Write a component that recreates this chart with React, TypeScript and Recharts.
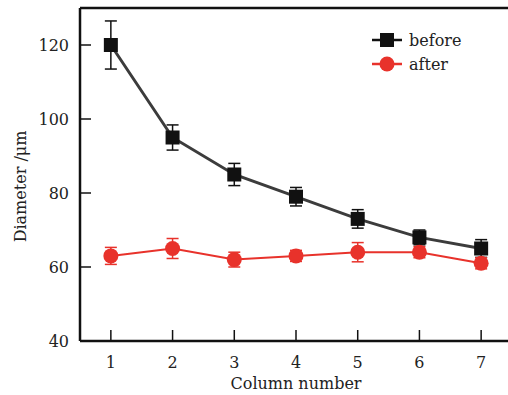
import React from 'react';
import { LineChart, Line, XAxis, YAxis, ErrorBar, ReferenceLine } from 'recharts';

const columns = [1, 2, 3, 4, 5, 6, 7];
const beforeValues = [120, 95, 85, 79, 73, 68, 65];
const beforeErrors = [6.5, 3.4, 3, 2.5, 2.5, 2, 2.4];
const afterValues = [63, 65, 62, 63, 64, 64, 61];
const afterErrors = [2.3, 2.7, 2, 1.5, 2.6, 1.5, 1.5];
const yTicks = [40, 60, 80, 100, 120];
const seriesNames = ['before', 'after'];

const data = columns.map((c, i) => ({
  column: c,
  before: beforeValues[i],
  beforeErr: beforeErrors[i],
  after: afterValues[i],
  afterErr: afterErrors[i],
}));

const FONT = '"DejaVu Serif", serif';
const BLACK = '#111';
const GREY = '#3c3c3c';
const RED = '#e8322b';
const TEXT = '#222';

const WIDTH = 540;
const HEIGHT = 395;
const MARGIN = { top: 8, right: 28, bottom: 0, left: 0 };
const Y_AXIS_W = 80;
const X_AXIS_H = 54;
const xDomain = [0.5, 7.5];
const yDomain = [40, 130];

// inward tick marks, 11px long, turned into data units
const plotW = WIDTH - MARGIN.left - MARGIN.right - Y_AXIS_W;
const plotH = HEIGHT - MARGIN.top - MARGIN.bottom - X_AXIS_H;
const xTickLen = ((yDomain[1] - yDomain[0]) * 11) / plotH;
const yTickLen = ((xDomain[1] - xDomain[0]) * 11) / plotW;

const SquareDot = (props: any) => {
  const { cx, cy, index } = props;
  return <rect key={`sq-${index}`} x={cx - 7} y={cy - 7} width={14} height={14} fill={BLACK} />;
};

const CircleDot = (props: any) => {
  const { cx, cy, index } = props;
  return <circle key={`ci-${index}`} cx={cx} cy={cy} r={7.5} fill={RED} />;
};

// legend drawn on top of the chart, top right
const LegendBox = () => (
  <svg width={130} height={50} style={{ position: 'absolute', top: 30, left: 372, overflow: 'visible' }}>
    <line x1={0} y1={10} x2={30} y2={10} stroke={BLACK} strokeWidth={2.5} />
    <rect x={8} y={3} width={14} height={14} fill={BLACK} />
    <text x={37} y={10} dy="0.35em" fontFamily={FONT} fontSize={16} fill={TEXT}>{seriesNames[0]}</text>
    <line x1={0} y1={34} x2={30} y2={34} stroke={RED} strokeWidth={2.5} />
    <circle cx={15} cy={34} r={7.5} fill={RED} />
    <text x={37} y={34} dy="0.35em" fontFamily={FONT} fontSize={16} fill={TEXT}>{seriesNames[1]}</text>
  </svg>
);

export default function App() {
  return (
    <div style={{ position: 'fixed', top: 0, left: 0, width: 508, height: 395, overflow: 'hidden', background: '#fff' }}>
      <LineChart width={WIDTH} height={HEIGHT} data={data} margin={MARGIN}>
        <XAxis
          dataKey="column"
          type="number"
          domain={xDomain}
          ticks={columns}
          height={X_AXIS_H}
          tickLine={false}
          tickSize={0}
          tickMargin={16}
          axisLine={{ stroke: BLACK, strokeWidth: 2.5 }}
          tick={{ fontFamily: FONT, fontSize: 16, fill: TEXT }}
          label={{ value: 'Column number', position: 'insideBottom', offset: 6, fontFamily: FONT, fontSize: 16, fill: TEXT }}
        />
        <YAxis
          type="number"
          domain={yDomain}
          ticks={yTicks}
          width={Y_AXIS_W}
          tickLine={false}
          tickSize={0}
          tickMargin={11}
          axisLine={{ stroke: BLACK, strokeWidth: 2.5 }}
          tick={{ fontFamily: FONT, fontSize: 16, fill: TEXT }}
          label={{ value: 'Diameter /\u03bcm', angle: -90, position: 'insideLeft', offset: 20, dy: 12, style: { textAnchor: 'middle' }, fontFamily: FONT, fontSize: 16, fill: TEXT }}
        />
        <ReferenceLine y={yDomain[1]} stroke={BLACK} strokeWidth={2.5} />
        {columns.map((c) => (
          <ReferenceLine
            key={`xt-${c}`}
            segment={[{ x: c, y: yDomain[0] }, { x: c, y: yDomain[0] + xTickLen }]}
            stroke={BLACK}
            strokeWidth={1.5}
            ifOverflow="visible"
          />
        ))}
        {yTicks.slice(1).map((v) => (
          <ReferenceLine
            key={`yt-${v}`}
            segment={[{ x: xDomain[0], y: v }, { x: xDomain[0] + yTickLen, y: v }]}
            stroke={BLACK}
            strokeWidth={1.5}
            ifOverflow="visible"
          />
        ))}
        <Line
          dataKey="before"
          stroke={GREY}
          strokeWidth={3}
          dot={SquareDot}
          activeDot={false}
          isAnimationActive={false}
        >
          <ErrorBar dataKey="beforeErr" direction="y" width={6} stroke={BLACK} strokeWidth={1.5} />
        </Line>
        <Line
          dataKey="after"
          stroke={RED}
          strokeWidth={2}
          dot={CircleDot}
          activeDot={false}
          isAnimationActive={false}
        >
          <ErrorBar dataKey="afterErr" direction="y" width={6} stroke={RED} strokeWidth={1.5} />
        </Line>
      </LineChart>
      <LegendBox />
    </div>
  );
}
